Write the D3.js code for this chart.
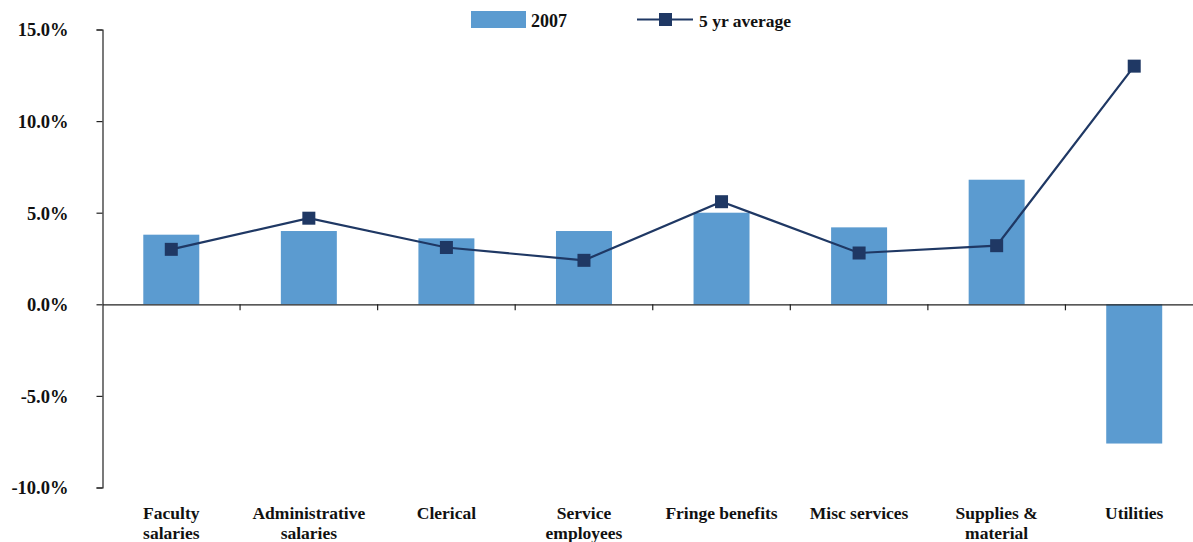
<!DOCTYPE html>
<html>
<head>
<meta charset="utf-8">
<script src="https://cdn.jsdelivr.net/npm/d3@7"></script>
<style>
  html, body { margin: 0; padding: 0; background: #fff; }
  svg { display: block; }
  text { font-family: "Liberation Serif", "DejaVu Serif", serif; font-weight: bold; fill: #111; }
</style>
</head>
<body>
<svg id="chart" width="1193" height="542"></svg>
<script>
// Category names (line breaks marked with \n)
const categories = [
  "Faculty\nsalaries",
  "Administrative\nsalaries",
  "Clerical",
  "Service\nemployees",
  "Fringe benefits",
  "Misc services",
  "Supplies &\nmaterial",
  "Utilities"
];
// Percent change, 2007
const values2007 = [3.8, 4.0, 3.6, 4.0, 5.0, 4.2, 6.8, -7.6];
// Five-year average percent change
const valuesAvg = [3.0, 4.7, 3.1, 2.4, 5.6, 2.8, 3.2, 13.0];
// Y axis ticks
const yTicks = [-10, -5, 0, 5, 10, 15];
const seriesNames = ["2007", "5 yr average"];

const barColor = "#5B9BD0";
const lineColor = "#1F3864";

const svg = d3.select("#chart")
  .attr("font-family", "Liberation Serif");

const x = d3.scaleBand()
  .domain(categories)
  .range([102.5, 1203])
  .paddingInner(0.593)
  .paddingOuter(0.2965);

const y = d3.scaleLinear()
  .domain([-10, 15])
  .range([487.5, 29.5]);

// Bars
svg.append("g")
  .selectAll("rect")
  .data(values2007)
  .join("rect")
  .attr("x", (d, i) => x(categories[i]))
  .attr("width", x.bandwidth())
  .attr("y", d => y(Math.max(0, d)))
  .attr("height", d => Math.abs(y(d) - y(0)))
  .attr("fill", barColor);

// Y axis (plain hyphen for negatives)
const fmt = d3.formatLocale({ decimal: ".", thousands: ",", grouping: [3], currency: ["", ""], minus: "-" }).format(".1f");
const yAxis = d3.axisLeft(y)
  .tickValues(yTicks)
  .tickSize(6)
  .tickPadding(28)
  .tickFormat(d => fmt(d) + "%");

const gy = svg.append("g")
  .attr("transform", "translate(102.5,0)")
  .call(yAxis)
  .attr("font-family", null);
gy.select(".domain").attr("stroke", "#222").attr("stroke-width", 1.2);
gy.selectAll(".tick line").attr("stroke", "#222").attr("stroke-width", 1.2);
gy.selectAll(".tick text")
  .style("font-size", "18.5px")
  .attr("fill", "#111")
  .attr("dy", "0.35em");

// Zero baseline with category separators
const xAxis = d3.axisBottom(x)
  .tickSize(0)
  .tickFormat("");
const gx = svg.append("g")
  .attr("transform", `translate(0,${y(0)})`)
  .call(xAxis);
gx.select(".domain").attr("stroke", "#222").attr("stroke-width", 1.2);
gx.selectAll(".tick").remove();

const step = x.step();
const sepData = d3.range(1, categories.length);
gx.selectAll("line.sep")
  .data(sepData)
  .join("line")
  .attr("class", "sep")
  .attr("x1", i => x(categories[i]) - (step - x.bandwidth()) / 2)
  .attr("x2", i => x(categories[i]) - (step - x.bandwidth()) / 2)
  .attr("y1", 0)
  .attr("y2", 6)
  .attr("stroke", "#222")
  .attr("stroke-width", 1.2);

// Category labels
const labels = svg.append("g")
  .selectAll("text")
  .data(categories)
  .join("text")
  .attr("text-anchor", "middle")
  .attr("x", d => x(d) + x.bandwidth() / 2)
  .attr("y", 519)
  .style("font-size", "17.5px");
labels.each(function(d) {
  const parts = d.split("\n");
  const t = d3.select(this);
  parts.forEach((p, k) => {
    t.append("tspan")
      .attr("x", x(d) + x.bandwidth() / 2)
      .attr("dy", k === 0 ? 0 : 20)
      .text(p);
  });
});

// Average line
const line = d3.line()
  .x((d, i) => x(categories[i]) + x.bandwidth() / 2)
  .y(d => y(d));
svg.append("path")
  .datum(valuesAvg)
  .attr("d", line)
  .attr("fill", "none")
  .attr("stroke", lineColor)
  .attr("stroke-width", 2.2);

const ms = 13;
svg.append("g")
  .selectAll("rect")
  .data(valuesAvg)
  .join("rect")
  .attr("x", (d, i) => x(categories[i]) + x.bandwidth() / 2 - ms / 2)
  .attr("y", d => y(d) - ms / 2)
  .attr("width", ms)
  .attr("height", ms)
  .attr("fill", lineColor);

// Legend
const legend = svg.append("g");
legend.append("rect")
  .attr("x", 471).attr("y", 11)
  .attr("width", 55).attr("height", 17)
  .attr("fill", barColor);
legend.append("text")
  .attr("x", 531).attr("y", 27)
  .style("font-size", "18px")
  .text(seriesNames[0]);
legend.append("line")
  .attr("x1", 637).attr("x2", 693)
  .attr("y1", 19.5).attr("y2", 19.5)
  .attr("stroke", lineColor).attr("stroke-width", 2.2);
legend.append("rect")
  .attr("x", 659).attr("y", 13)
  .attr("width", ms).attr("height", ms)
  .attr("fill", lineColor);
legend.append("text")
  .attr("x", 699).attr("y", 27)
  .style("font-size", "17.5px")
  .text(seriesNames[1]);
</script>
</body>
</html>
